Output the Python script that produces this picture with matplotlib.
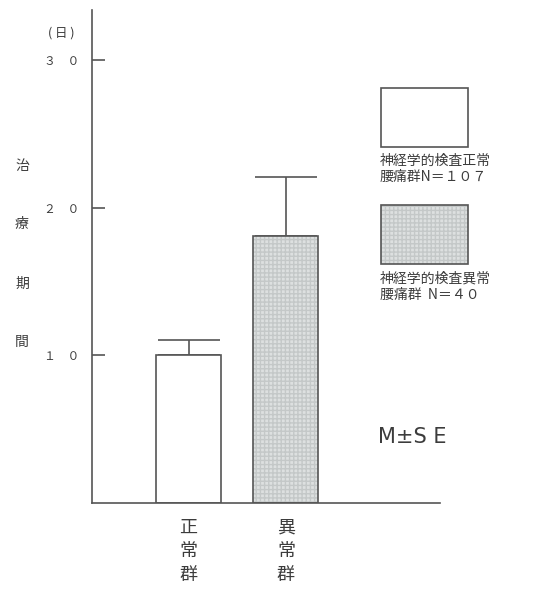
import matplotlib
matplotlib.use("Agg")
import matplotlib.pyplot as plt
from matplotlib.patches import Rectangle

plt.rcParams['font.family'] = ['Noto Sans CJK JP', 'DejaVu Sans']

# Data
categories = ["正\n常\n群", "異\n常\n群"]
means = [10.0, 18.1]
se = [1.0, 4.0]
ytick_values = [10, 20, 30]
ytick_labels = ["１　０", "２　０", "３　０"]
legend_labels = ["神経学的検査正常\n腰痛群N＝１０７", "神経学的検査異常\n腰痛群  N＝４０"]
ylabel_chars = ["治", "療", "期", "間"]

W, H = 551, 593
fig = plt.figure(figsize=(W / 100, H / 100), dpi=100)
txt = "#3c3c3c"
line = "#555555"

def fx(px):
    return px / W

def fy(py):
    return 1 - py / H

ax = fig.add_axes([fx(92), fy(502.5), fx(440) - fx(92), fy(10) - fy(502.5)])
ax.set_xlim(-0.99, 2.58)
ax.set_ylim(0, 33.4)

xs = [0, 1]
# white bar
ax.bar(xs[0], means[0], width=0.667, facecolor="white", edgecolor=line, linewidth=1.2, zorder=2)
# textured gray bar
ax.bar(xs[1], means[1], width=0.667, facecolor="#dde0e0", edgecolor="#c4c8c8", hatch="++++",
       linewidth=0, zorder=2)
ax.bar(xs[1], means[1], width=0.667, facecolor="none", edgecolor=line, linewidth=1.2, zorder=3)

# upper-only error bars
ax.errorbar(xs, means, yerr=[[0, 0], se], fmt="none", ecolor=line, elinewidth=1.2,
            capsize=22, capthick=1.2, zorder=1)

for s in ["top", "right"]:
    ax.spines[s].set_visible(False)
for s in ["left", "bottom"]:
    ax.spines[s].set_color(line)
    ax.spines[s].set_linewidth(1.2)

ax.set_yticks(ytick_values)
ax.set_yticklabels(ytick_labels, fontsize=8.5, color=txt)
ax.tick_params(axis="y", direction="in", length=9, width=1.2, color=line, pad=9)
ax.set_xticks([])

# category labels
for x, lab in zip(xs, categories):
    ax.text(x, -1.1, lab, ha="center", va="top", fontsize=13, color=txt, linespacing=1.4)

# unit and vertical y label
fig.text(fx(61), fy(33), "( 日 )", ha="center", va="center", fontsize=9, color=txt)
for py, ch in zip([166, 224, 284, 342], ylabel_chars):
    fig.text(fx(22), fy(py), ch, ha="center", va="center", fontsize=10, color=txt)

# legend boxes
b1 = Rectangle((fx(381), fy(147)), fx(468) - fx(381), fy(88) - fy(147), transform=fig.transFigure,
               facecolor="white", edgecolor=line, linewidth=1.2)
fig.add_artist(b1)
b2a = Rectangle((fx(381), fy(264)), fx(468) - fx(381), fy(205) - fy(264), transform=fig.transFigure,
                facecolor="#dde0e0", edgecolor="#c4c8c8", hatch="++++", linewidth=0)
fig.add_artist(b2a)
b2 = Rectangle((fx(381), fy(264)), fx(468) - fx(381), fy(205) - fy(264), transform=fig.transFigure,
               facecolor="none", edgecolor=line, linewidth=1.2)
fig.add_artist(b2)

fig.text(fx(380), fy(154), legend_labels[0], ha="left", va="top", fontsize=10, color=txt,
         linespacing=1.2)
fig.text(fx(380), fy(272), legend_labels[1], ha="left", va="top", fontsize=10, color=txt,
         linespacing=1.2)

fig.text(fx(378), fy(437), "M±S E", ha="left", va="center", fontsize=15, color=txt,
         family=["DejaVu Sans"])

fig.savefig("out.png", dpi=100, facecolor="white")
